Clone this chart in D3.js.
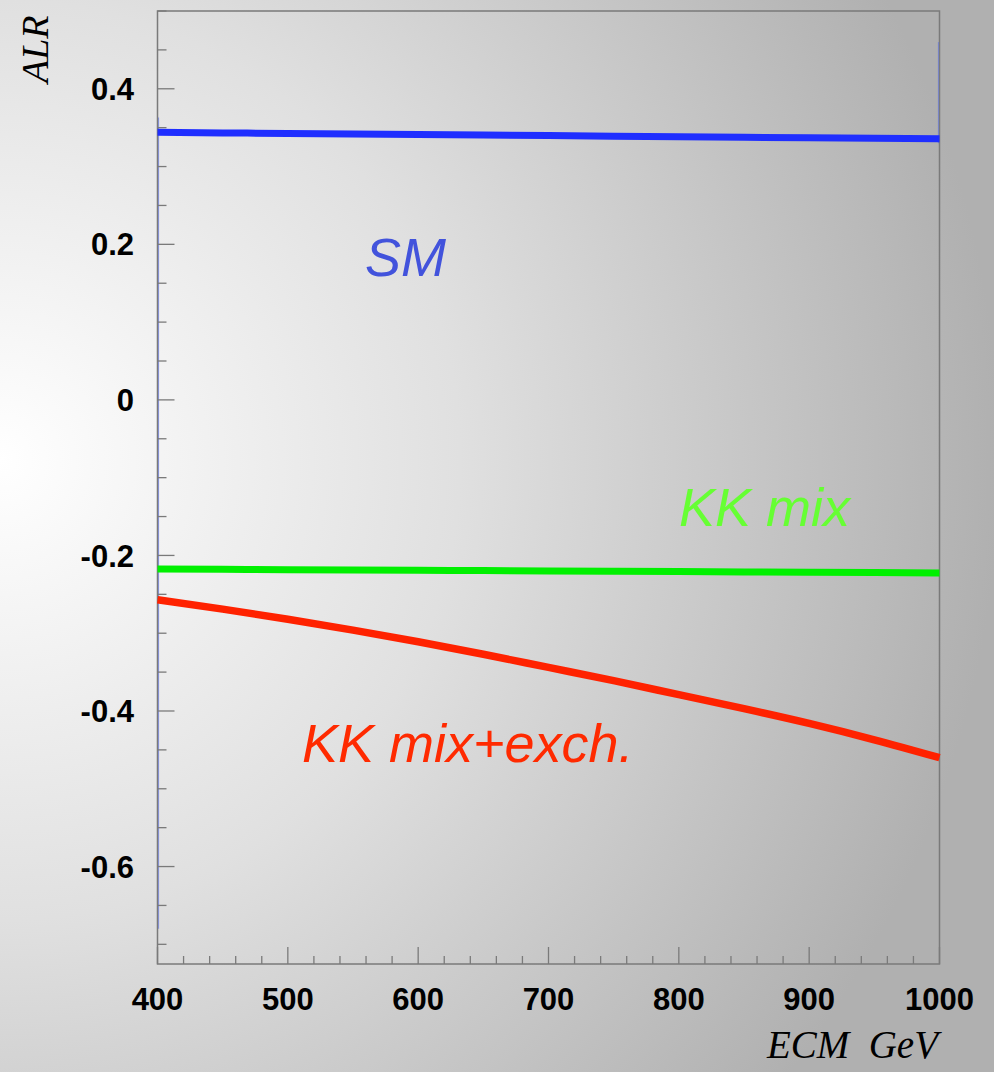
<!DOCTYPE html>
<html>
<head>
<meta charset="utf-8">
<script src="https://d3js.org/d3.v7.min.js"></script>
<style>
    body { margin: 0; background: #ffffff; }
    svg { display: block; }
</style>
</head>
<body>
<svg id="chart" width="999" height="1072"></svg>
<script>
// energy points (GeV) and asymmetry values
const ecm = [400, 450, 500, 550, 600, 650, 700, 750, 800, 850, 900, 950, 1000];
const alrSM = [0.3440, 0.3433, 0.3426, 0.3419, 0.3412, 0.3405, 0.3398, 0.3391, 0.3384, 0.3377, 0.3370, 0.3363, 0.3356];
const alrKKmix = [-0.2175, -0.2179, -0.2183, -0.2187, -0.2191, -0.2195, -0.2199, -0.2203, -0.2207, -0.2212, -0.2216, -0.2220, -0.2225];
const alrKKexch = [-0.257, -0.269, -0.282, -0.296, -0.311, -0.327, -0.344, -0.361, -0.379, -0.397, -0.416, -0.437, -0.460];

const xTickLabels = [400, 500, 600, 700, 800, 900, 1000];
const yTickLabels = [-0.6, -0.4, -0.2, 0, 0.2, 0.4];

const svg = d3.select("#chart");

const margin = {left: 157.5, right: 939.5, top: 11, bottom: 964};

const xScale = d3.scaleLinear().domain([400, 1000]).range([margin.left, margin.right]);
const yScale = d3.scaleLinear().domain([-0.7253, 0.5]).range([margin.bottom, margin.top]);

// background gradient
const defs = svg.append("defs");
const grad = defs.append("radialGradient")
    .attr("id", "bg-grad")
    .attr("gradientUnits", "userSpaceOnUse")
    .attr("cx", 0).attr("cy", 460).attr("r", 1000);
grad.append("stop").attr("offset", "0").attr("stop-color", "#ffffff");
grad.append("stop").attr("offset", "0.46").attr("stop-color", "#e0e0e0");
grad.append("stop").attr("offset", "1").attr("stop-color", "#b0b0b0");

svg.append("rect")
    .attr("x", 0).attr("y", 0)
    .attr("width", 994).attr("height", 1072)
    .attr("fill", "url(#bg-grad)");

// thin histogram edges along the side walls
svg.append("line")
    .attr("x1", xScale(400) + 1).attr("x2", xScale(400) + 1)
    .attr("y1", yScale(0.363)).attr("y2", yScale(-0.68))
    .attr("stroke", "#8a98ee").attr("stroke-width", 1.2);
svg.append("line")
    .attr("x1", xScale(1000) - 1).attr("x2", xScale(1000) - 1)
    .attr("y1", yScale(0.46)).attr("y2", yScale(0.33))
    .attr("stroke", "#7786dd").attr("stroke-width", 1.2);

// frame
const axisColour = "#7a7a7a";
svg.append("rect")
    .attr("x", margin.left).attr("y", margin.top)
    .attr("width", margin.right - margin.left)
    .attr("height", margin.bottom - margin.top)
    .attr("fill", "none")
    .attr("stroke", axisColour)
    .attr("stroke-width", 1.5);

// y ticks (inside, on left)
const yMinor = d3.range(-0.7, 0.5001, 0.05).map(v => +v.toFixed(2));
svg.append("g").selectAll("line")
    .data(yMinor)
    .join("line")
        .attr("x1", margin.left)
        .attr("x2", v => margin.left + (yTickLabels.some(t => Math.abs(t - v) < 1e-6) ? 17 : 9))
        .attr("y1", v => yScale(v))
        .attr("y2", v => yScale(v))
        .attr("stroke", axisColour)
        .attr("stroke-width", 1.3);

// x ticks (inside, on bottom)
const xMinor = d3.range(400, 1001, 20);
svg.append("g").selectAll("line")
    .data(xMinor)
    .join("line")
        .attr("x1", v => xScale(v))
        .attr("x2", v => xScale(v))
        .attr("y1", margin.bottom)
        .attr("y2", v => margin.bottom - (v % 100 === 0 ? 17 : 8))
        .attr("stroke", axisColour)
        .attr("stroke-width", 1.3);

// tick labels
svg.append("g").selectAll("text")
    .data(yTickLabels)
    .join("text")
        .attr("x", 134)
        .attr("y", v => yScale(v))
        .attr("dy", "0.36em")
        .attr("text-anchor", "end")
        .attr("font-family", "Liberation Sans, Arial, sans-serif")
        .attr("font-weight", "bold")
        .attr("font-size", 31)
        .attr("fill", "#000")
        .text(v => v === 0 ? "0" : v.toFixed(1));

svg.append("g").selectAll("text")
    .data(xTickLabels)
    .join("text")
        .attr("x", v => xScale(v))
        .attr("y", 1010)
        .attr("text-anchor", "middle")
        .attr("font-family", "Liberation Sans, Arial, sans-serif")
        .attr("font-weight", "bold")
        .attr("font-size", 31)
        .attr("fill", "#000")
        .text(v => v);

// axis titles
svg.append("text")
    .attr("transform", "translate(48, 83) rotate(-90)")
    .attr("font-family", "Liberation Serif, Times New Roman, serif")
    .attr("font-style", "italic")
    .attr("font-size", 38)
    .attr("fill", "#000")
    .text("ALR");

svg.append("text")
    .attr("x", 938)
    .attr("y", 1058)
    .attr("text-anchor", "end")
    .attr("font-family", "Liberation Serif, Times New Roman, serif")
    .attr("font-style", "italic")
    .attr("font-size", 39)
    .attr("fill", "#000")
    .attr("xml:space", "preserve")
    .text("ECM  GeV");

// curves
const series = [
    {name: "SM", values: alrSM, colour: "#1f2eff", width: 7},
    {name: "KK mix", values: alrKKmix, colour: "#00f000", width: 7},
    {name: "KK mix+exch.", values: alrKKexch, colour: "#ff2200", width: 7.5}
];

const lineGen = d3.line()
    .x(d => xScale(d[0]))
    .y(d => yScale(d[1]))
    .curve(d3.curveMonotoneX);

svg.append("g").selectAll("path")
    .data(series)
    .join("path")
        .attr("d", s => lineGen(ecm.map((e, i) => [e, s.values[i]])))
        .attr("fill", "none")
        .attr("stroke", s => s.colour)
        .attr("stroke-width", s => s.width);

// curve labels
const labels = [
    {text: "SM", x: 365, y: 276, colour: "#4253dc"},
    {text: "KK mix", x: 679, y: 526, colour: "#66ff33"},
    {text: "KK mix+exch.", x: 302, y: 762, colour: "#ff2a00"}
];

svg.append("g").selectAll("text")
    .data(labels)
    .join("text")
        .attr("x", d => d.x)
        .attr("y", d => d.y)
        .attr("font-family", "Liberation Sans, Arial, sans-serif")
        .attr("font-style", "italic")
        .attr("font-size", 54)
        .attr("fill", d => d.colour)
        .text(d => d.text);
</script>
</body>
</html>
